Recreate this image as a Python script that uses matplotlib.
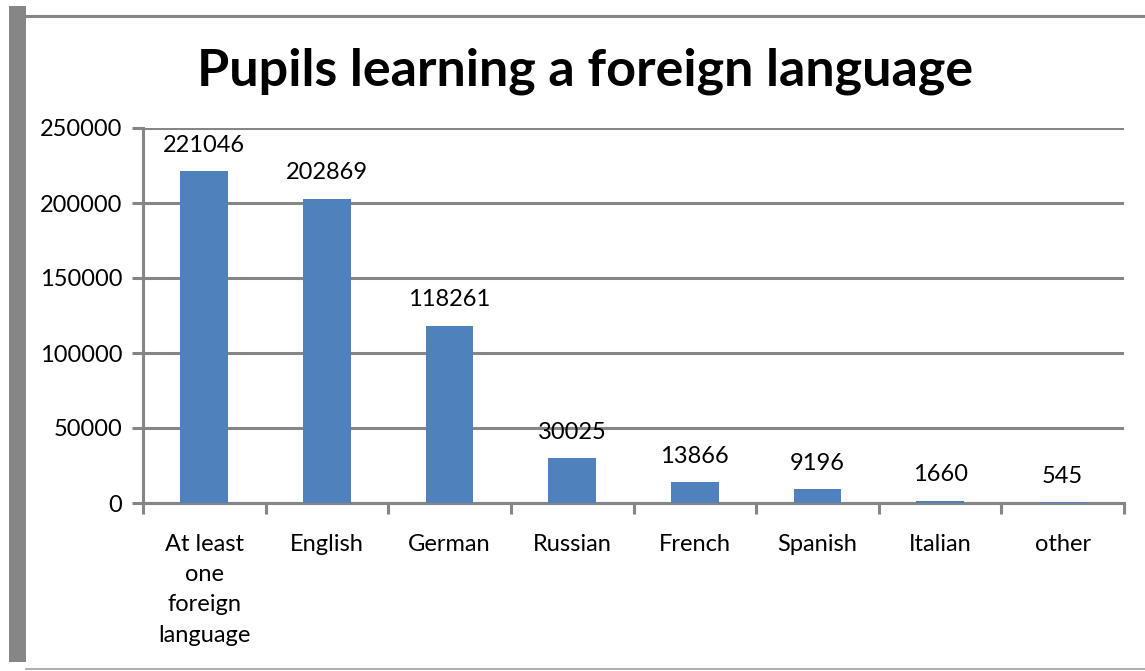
import matplotlib.pyplot as plt
from matplotlib.patches import Rectangle
from matplotlib.lines import Line2D

categories = ['At least\none\nforeign\nlanguage', 'English', 'German', 'Russian',
              'French', 'Spanish', 'Italian', 'other']
pupils = [221046, 202869, 118261, 30025, 13866, 9196, 1660, 545]
y_ticks = [0, 50000, 100000, 150000, 200000, 250000]

W, H = 1145, 671
fig = plt.figure(figsize=(W / 100, H / 100), dpi=100)
plt.rcParams['font.family'] = ['Lato', 'DejaVu Sans']

grey = '#868686'
fs = 17

# chart frame decorations
fig.patches.append(Rectangle((9 / W, 1 - 662 / H), 17 / W, 656 / H, transform=fig.transFigure,
                             facecolor=grey, edgecolor='none'))
fig.lines.append(Line2D([26 / W, 1], [1 - 16 / H, 1 - 16 / H], transform=fig.transFigure,
                        color=grey, lw=2.2))
fig.lines.append(Line2D([26 / W, 1], [1 - 669 / H, 1 - 669 / H], transform=fig.transFigure,
                        color='#a0a0a0', lw=1.2))

x0, x1, ytop, ybot = 143, 1124, 128, 503
ax = fig.add_axes([x0 / W, 1 - ybot / H, (x1 - x0) / W, (ybot - ytop) / H])

x = range(len(categories))
ax.bar(x, pupils, width=0.39, color='#4F81BD', zorder=3)
for i, v in zip(x, pupils):
    ax.annotate(str(v), (i, v), xytext=(0, 11), textcoords='offset points',
                ha='center', va='bottom', fontsize=fs)

ax.set_xlim(-0.5, len(categories) - 0.5)
ax.set_ylim(0, 250000)
ax.set_yticks(y_ticks)
ax.set_yticklabels([str(t) for t in y_ticks], fontsize=fs)
ax.yaxis.grid(True, color=grey, lw=2.2, zorder=0)
ax.set_xticks([i + 0.5 for i in range(-1, len(categories))], minor=False)
ax.set_xticklabels([])
ax.set_xticks(list(x), minor=True)
ax.set_xticklabels(categories, minor=True, fontsize=fs, linespacing=1.55)
ax.tick_params(axis='x', which='major', length=8, width=2.2, color=grey, direction='out')
ax.tick_params(axis='x', which='minor', length=0, pad=22)
ax.tick_params(axis='y', length=8, width=2.2, color=grey, pad=7)

for s in ['top', 'right']:
    ax.spines[s].set_visible(False)
for s in ['left', 'bottom']:
    ax.spines[s].set_color(grey)
    ax.spines[s].set_linewidth(2.2)

fig.text(585 / W, 1 - 71 / H, 'Pupils learning a foreign language', ha='center', va='center',
         fontsize=37.5, fontweight='bold')

plt.savefig('out.png', dpi=100, facecolor='w')
